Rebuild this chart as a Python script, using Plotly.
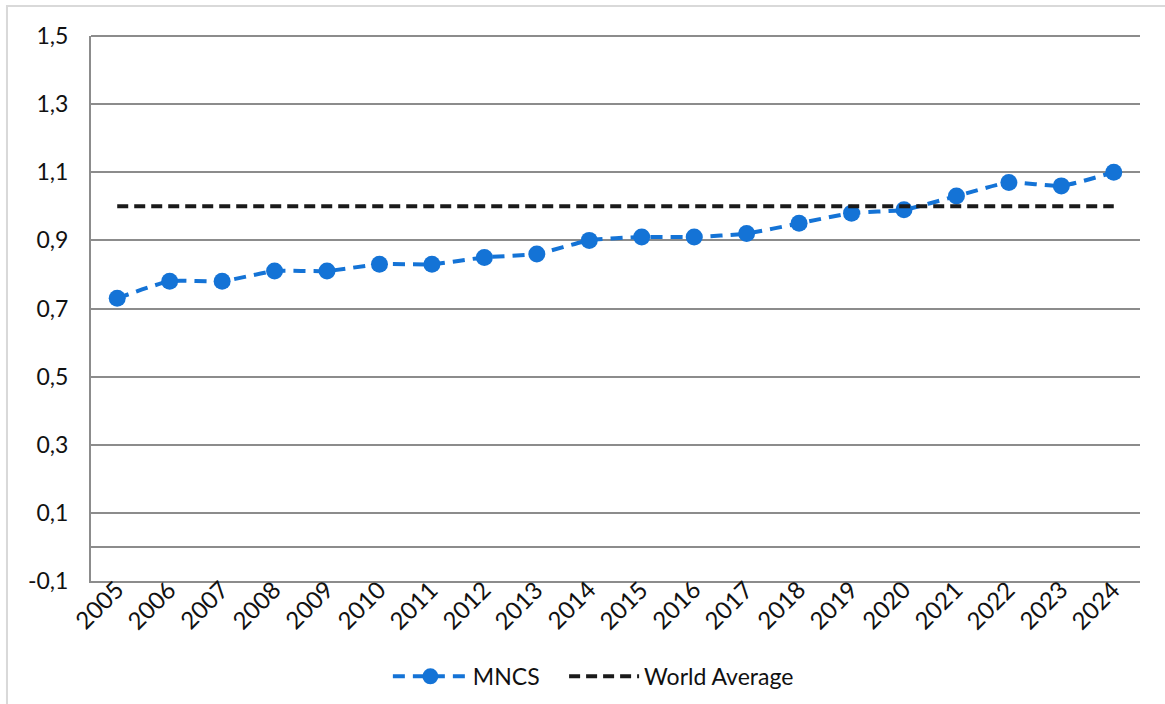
import plotly.graph_objects as go

years = list(range(2005, 2025))
mncs = [0.73, 0.78, 0.78, 0.81, 0.81, 0.83, 0.83, 0.85, 0.86, 0.90,
        0.91, 0.91, 0.92, 0.95, 0.98, 0.99, 1.03, 1.07, 1.06, 1.10]
world_average = [1.0] * len(years)
y_ticks = [-0.1, 0.1, 0.3, 0.5, 0.7, 0.9, 1.1, 1.3, 1.5]
y_tick_labels = ["-0,1", "0,1", "0,3", "0,5", "0,7", "0,9", "1,1", "1,3", "1,5"]

FONT = "Lato"
GRID = "#8c8c8c"
TEXT = "#111111"

fig = go.Figure()
fig.add_trace(go.Scatter(
    x=years, y=mncs, name="MNCS", mode="lines+markers", legend="legend",
    line=dict(color="#1473D6", width=4, dash="12px,8px", shape="spline", smoothing=0.5),
    marker=dict(color="#1473D6", size=17, line=dict(width=0)),
))
fig.add_trace(go.Scatter(
    x=years, y=world_average, name="World Average", mode="lines", legend="legend2",
    line=dict(color="#1a1a1a", width=4, dash="11px,6px"),
))

legend_common = dict(orientation="h", yanchor="middle", y=-0.175,
                     font=dict(family=FONT, size=23, color=TEXT),
                     bgcolor="rgba(0,0,0,0)", xanchor="left")

# rotated year labels hugging the category axis
year_labels = [
    dict(x=yr, y=0, xref="x", yref="paper", text=str(yr), showarrow=False,
         textangle=-45, xanchor="right", yanchor="top", xshift=13, yshift=8,
         borderpad=0, font=dict(family=FONT, size=24, color=TEXT))
    for yr in years
]

fig.update_layout(
    width=1165, height=704,
    margin=dict(l=91, r=25, t=36, b=123, autoexpand=False),
    paper_bgcolor="white", plot_bgcolor="white",
    font=dict(family=FONT, size=23, color=TEXT),
    showlegend=True,
    legend=dict(legend_common, x=0.283, itemwidth=75),
    legend2=dict(legend_common, x=0.451, itemwidth=70),
    annotations=year_labels,
    shapes=[
        # outer chart frame
        dict(type="rect", xref="paper", yref="paper",
             x0=-0.0801, x1=1.05, y0=-0.26, y1=1.055,
             line=dict(color="#d9d9d9", width=2), fillcolor="rgba(0,0,0,0)", layer="below"),
        # top gridline along the upper edge of the plot area
        dict(type="line", xref="paper", yref="paper", x0=0, x1=1,
             y0=1, y1=1, line=dict(color=GRID, width=2), layer="above"),
    ],
)

fig.update_xaxes(
    range=[2004.5, 2024.5], tickmode="array", tickvals=years, showticklabels=False,
    showgrid=False, showline=True, linecolor=GRID, linewidth=2,
    ticks="", zeroline=False,
)
fig.update_yaxes(
    range=[-0.1, 1.5], tickmode="array", tickvals=y_ticks, ticktext=y_tick_labels,
    showgrid=True, gridcolor=GRID, gridwidth=2,
    zeroline=True, zerolinecolor=GRID, zerolinewidth=2,
    showline=True, linecolor=GRID, linewidth=2, ticks="",
    ticklabelstandoff=16, tickfont=dict(size=23),
)

fig.write_html("out.html")
